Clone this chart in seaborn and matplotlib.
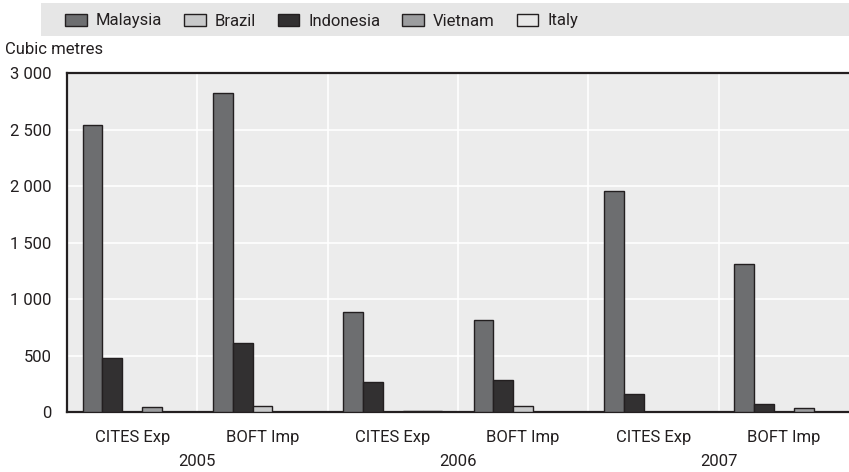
import matplotlib
matplotlib.use("Agg")
import matplotlib.pyplot as plt
import matplotlib.patches as mpatches
import matplotlib.transforms as mtransforms
from matplotlib.ticker import FixedLocator, FuncFormatter
import seaborn as sns
import pandas as pd

# ---- data ----
categories = ["CITES Exp", "BOFT Imp", "CITES Exp", "BOFT Imp", "CITES Exp", "BOFT Imp"]
years = ["2005", "2006", "2007"]
malaysia = [2540, 2820, 882, 812, 1959, 1306]
brazil = [0, 54, 0, 56, 0, 0]
indonesia = [480, 609, 265, 286, 159, 74]
vietnam = [44, 0, 8, 0, 4, 35]
italy = [0, 0, 5, 0, 0, 0]

series = {"Malaysia": malaysia, "Indonesia": indonesia, "Brazil": brazil,
          "Vietnam": vietnam, "Italy": italy}
colors = {"Malaysia": "#6d6e70", "Indonesia": "#323031", "Brazil": "#c8c9ca",
          "Vietnam": "#9c9d9f", "Italy": "#e8e8e8"}
legend_order = ["Malaysia", "Brazil", "Indonesia", "Vietnam", "Italy"]

keys = [f"{c} {years[i // 2]}" for i, c in enumerate(categories)]
rows = []
for name, vals in series.items():
    for k, v in zip(keys, vals):
        rows.append({"group": k, "country": name, "value": v})
df = pd.DataFrame(rows)

sns.set_theme(style="white")
font = ["Roboto", "DejaVu Sans"]
plt.rcParams["font.family"] = font
FS = 12

fig = plt.figure(figsize=(8.49, 4.72), dpi=100)
ax = fig.add_axes([67 / 849, 1 - 412 / 472, 1 - 67 / 849, (412 - 73) / 472])
ax.set_facecolor("#ececec")

sns.barplot(data=df, x="group", y="value", hue="country", order=keys,
            hue_order=list(series.keys()), palette=colors, width=0.76,
            edgecolor="#231f20", linewidth=1.0, ax=ax, zorder=3, legend=True)

ax.set_ylim(0, 3000)
ax.set_xlim(-0.5, 5.5)
ax.set_xlabel("")
ax.set_ylabel("")
ax.set_yticks([0, 500, 1000, 1500, 2000, 2500, 3000])
ax.yaxis.set_major_formatter(FuncFormatter(lambda v, p: f"{int(v):,}".replace(",", " ")))
ax.set_xticks(range(6))
ax.set_xticklabels(categories)
ax.xaxis.set_minor_locator(FixedLocator([0.5, 1.5, 2.5, 3.5, 4.5]))

ax.grid(axis="y", which="major", color="white", linewidth=1.2, zorder=0)
ax.grid(axis="x", which="minor", color="white", linewidth=1.2, zorder=0)
ax.grid(axis="x", which="major", visible=False)
ax.set_axisbelow(True)

ax.tick_params(axis="y", which="major", direction="in", length=7, width=1,
               color="#231f20", labelsize=FS, pad=11)
ax.tick_params(axis="x", which="major", length=0, labelsize=FS, pad=13)
ax.tick_params(axis="x", which="minor", direction="in", length=5, width=1,
               color="#231f20")
for lab in ax.get_xticklabels() + ax.get_yticklabels():
    lab.set_family(font)
    lab.set_color("#231f20")

for side in ["left", "top", "bottom"]:
    ax.spines[side].set_visible(True)
    ax.spines[side].set_color("#231f20")
    ax.spines[side].set_linewidth(1.6)
ax.spines["right"].set_visible(False)

trans = mtransforms.blended_transform_factory(ax.transData, fig.transFigure)
for i, yr in enumerate(years):
    ax.text(2 * i + 0.5, 1 - 461 / 472, yr, transform=trans, ha="center",
            va="center", fontsize=FS, color="#231f20", family=font)

fig.text(5 / 849, 1 - 50 / 472, "Cubic metres", ha="left", va="center",
         fontsize=FS, color="#231f20", family=font)

# legend
ax.get_legend().remove()
fig.patches.append(mpatches.Rectangle((41 / 849, 1 - 36 / 472), 1 - 41 / 849, 33 / 472,
                                      transform=fig.transFigure, facecolor="#e6e6e6",
                                      edgecolor="none", zorder=0))
leg_handles = [mpatches.Patch(facecolor=colors[n], edgecolor="#231f20", linewidth=1.0)
               for n in legend_order]
leg = fig.legend(leg_handles, legend_order, ncol=5, loc="center left",
                 bbox_to_anchor=(50 / 849, 1 - 21 / 472), frameon=False,
                 handlelength=1.3, handleheight=0.75, handletextpad=0.55,
                 columnspacing=1.3, prop={"family": font, "size": FS})
for t in leg.get_texts():
    t.set_color("#231f20")

fig.savefig("out.png", dpi=100)
